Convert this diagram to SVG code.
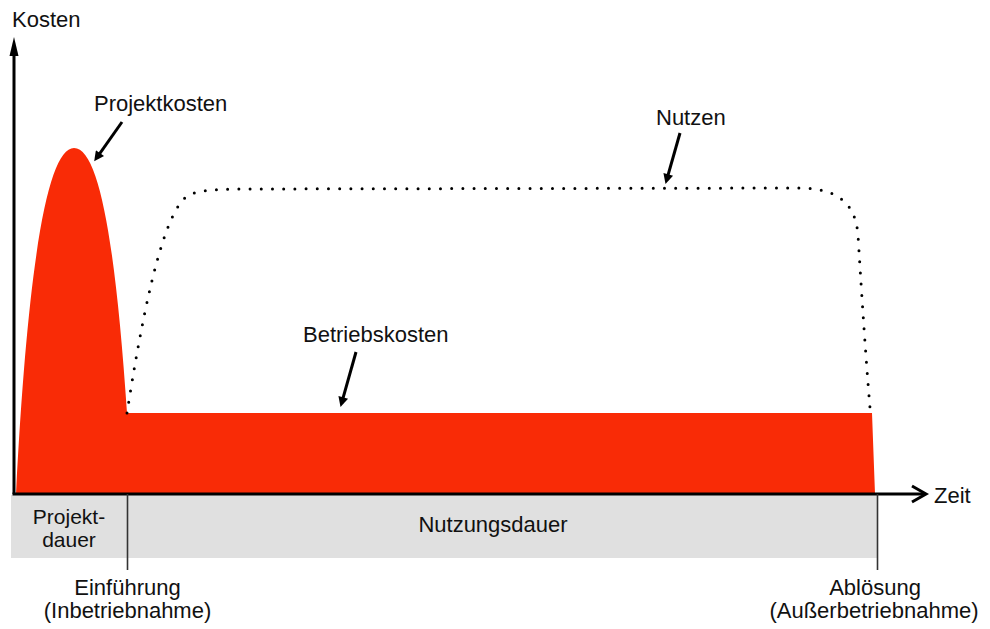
<svg xmlns="http://www.w3.org/2000/svg" width="990" height="629" viewBox="0 0 990 629">
<defs>
<style>
text{font-family:"Liberation Sans",Arial,sans-serif;font-size:22px;fill:#111}
.mid{text-anchor:middle}
.sm{font-size:21px}
.axis{stroke:#000;stroke-width:3;fill:none}
.ann{stroke:#000;stroke-width:3;fill:none;marker-end:url(#ah)}
.tick{stroke:#333;stroke-width:1.6}
</style>
<marker id="ah" viewBox="0 0 10 10" refX="6" refY="5" markerWidth="15" markerHeight="10" markerUnits="userSpaceOnUse" orient="auto">
<path d="M0,0 L10,5 L0,10 z" fill="#000"/>
</marker>
</defs>
<rect width="990" height="629" fill="#fff"/>
<g id="band">
<rect x="11" y="495" width="866" height="63" fill="#e0e0e0"/>
</g>
<g id="costs">
<path d="M16,494 C28,260 48,148 74,148 C100,148 116,250 127,413 L872,413 L875,494 Z" fill="#f92b06"/>
</g>
<g id="nutzen-curve">
<path d="M127,413 C140,330 160,220 185,198 C195,190 210,190 235,189 L800,188 C835,189 855,200 858,235 C862,300 866,360 870,408" fill="none" stroke="#000" stroke-width="3" stroke-linecap="round" stroke-dasharray="0 11.2"/>
</g>
<g id="axes">
<line class="axis" x1="14" y1="494" x2="14" y2="50"/>
<polygon points="14,37 9.5,56 18.5,56" fill="#000"/>
<line class="axis" x1="12.5" y1="494" x2="925" y2="494"/>
<polyline class="axis" points="912,486 926,494 912,502"/>
<line class="tick" x1="127.5" y1="494" x2="127.5" y2="570"/>
<line class="tick" x1="877.5" y1="494" x2="877.5" y2="570"/>
</g>
<g id="connectors">
<line class="ann" x1="122" y1="122" x2="96.5" y2="158.1"/>
<line class="ann" x1="680" y1="133" x2="666.6" y2="180.2"/>
<line class="ann" x1="356" y1="352" x2="341.6" y2="403.2"/>
</g>
<g id="labels">
<text x="12" y="27">Kosten</text>
<text x="94" y="111">Projektkosten</text>
<text x="656" y="125">Nutzen</text>
<text x="303" y="342">Betriebskosten</text>
<text x="934" y="503">Zeit</text>
<text class="mid sm" x="69" y="523.5">Projekt-</text>
<text class="mid sm" x="69" y="546.5">dauer</text>
<text class="mid" x="493" y="532">Nutzungsdauer</text>
<text class="mid" x="127.5" y="595">Einführung</text>
<text class="mid" x="127.5" y="618">(Inbetriebnahme)</text>
<text class="mid" x="875" y="595">Ablösung</text>
<text class="mid" x="874" y="618">(Außerbetriebnahme)</text>
</g>
</svg>
